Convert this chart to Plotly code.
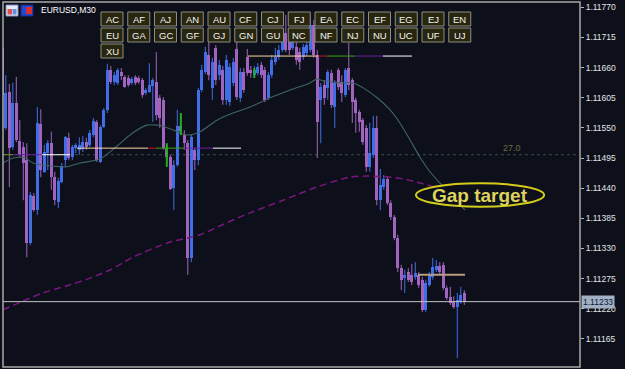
import numpy as np
import plotly.graph_objects as go

# ---------------- data (EURUSD, M30) ----------------
opens = [1.11696,1.11550,1.11615,1.11515,1.11595,1.11526,1.11515,1.11491,1.11340,1.11426,
         1.11400,1.11557,1.11470,1.11504,1.11522,1.11460,1.11415,1.11451,1.11491,1.11532,
         1.11497,1.11513,1.11510,1.11512,1.11524,1.11519,1.11537,1.11561,1.11488,1.11552,
         1.11583,1.11656,1.11634,1.11632,1.11652,1.11643,1.11641,1.11632,1.11643,1.11641,
         1.11637,1.11614,1.11615,1.11626,1.11634,1.11605,1.11601,1.11513,1.11497,1.11440,
         1.11482,1.11553,1.11537,1.11522,1.11313,1.11510,1.11491,1.11619,1.11652,1.11683,
         1.11623,1.11696,1.11646,1.11656,1.11601,1.11597,1.11632,1.11694,1.11605,1.11652,
         1.11679,1.11656,1.11646,1.11650,1.11665,1.11656,1.11605,1.11646,1.11670,1.11679,
         1.11692,1.11723,1.11710,1.11696,1.11698,1.11688,1.11679,1.11687,1.11692,1.11738,
         1.11683,1.11601,1.11628,1.11623,1.11650,1.11588,1.11656,1.11634,1.11610,1.11659,
         1.11637,1.11601,1.11579,1.11564,1.11550,1.11479,1.11501,1.11550,1.11418,1.11442,
         1.11457,1.11413,1.11387,1.11349,1.11294,1.11276,1.11287,1.11282,1.11278,1.11282,
         1.11273,1.11218,1.11263,1.11278,1.11291,1.11298,1.11300,1.11258,1.11242,1.11232,
         1.11223,1.11232,1.11249]
highs = [1.11705,1.11646,1.11630,1.11632,1.11643,1.11564,1.11524,1.11522,1.11433,1.11431,
         1.11588,1.11584,1.11519,1.11528,1.11543,1.11470,1.11459,1.11486,1.11535,1.11541,
         1.11519,1.11522,1.11533,1.11535,1.11532,1.11546,1.11568,1.11564,1.11555,1.11586,
         1.11667,1.11663,1.11652,1.11659,1.11659,1.11646,1.11646,1.11643,1.11646,1.11645,
         1.11641,1.11623,1.11668,1.11641,1.11688,1.11610,1.11606,1.11519,1.11501,1.11491,
         1.11583,1.11577,1.11546,1.11528,1.11537,1.11513,1.11623,1.11665,1.11698,1.11707,
         1.11678,1.11701,1.11674,1.11663,1.11683,1.11668,1.11678,1.11719,1.11659,1.11659,
         1.11694,1.11663,1.11663,1.11668,1.11670,1.11661,1.11652,1.11683,1.11696,1.11701,
         1.11732,1.11756,1.11718,1.11729,1.11710,1.11696,1.11703,1.11710,1.11756,1.11747,
         1.11692,1.11632,1.11637,1.11656,1.11656,1.11637,1.11659,1.11646,1.11659,1.11705,
         1.11641,1.11605,1.11583,1.11568,1.11555,1.11559,1.11572,1.11572,1.11475,1.11464,
         1.11462,1.11418,1.11391,1.11355,1.11300,1.11291,1.11294,1.11302,1.11305,1.11287,
         1.11278,1.11273,1.11287,1.11313,1.11309,1.11305,1.11305,1.11262,1.11260,1.11243,
         1.11249,1.11260,1.11254]
lows = [1.11601,1.11546,1.11442,1.11510,1.11524,1.11497,1.11418,1.11314,1.11336,1.11397,
        1.11391,1.11460,1.11468,1.11473,1.11437,1.11409,1.11404,1.11449,1.11479,1.11491,
        1.11491,1.11504,1.11501,1.11506,1.11510,1.11515,1.11533,1.11488,1.11486,1.11550,
        1.11577,1.11630,1.11628,1.11628,1.11637,1.11623,1.11625,1.11628,1.11628,1.11630,
        1.11605,1.11610,1.11614,1.11561,1.11564,1.11550,1.11510,1.11491,1.11437,1.11400,
        1.11479,1.11537,1.11510,1.11282,1.11305,1.11473,1.11482,1.11615,1.11648,1.11637,
        1.11601,1.11628,1.11637,1.11592,1.11592,1.11590,1.11626,1.11601,1.11597,1.11614,
        1.11645,1.11641,1.11641,1.11646,1.11641,1.11597,1.11601,1.11641,1.11665,1.11674,
        1.11688,1.11688,1.11683,1.11692,1.11665,1.11656,1.11674,1.11681,1.11688,1.11678,
        1.11495,1.11522,1.11592,1.11601,1.11586,1.11550,1.11619,1.11597,1.11606,1.11619,
        1.11559,1.11541,1.11543,1.11519,1.11470,1.11470,1.11495,1.11409,1.11400,1.11437,
        1.11409,1.11382,1.11345,1.11287,1.11254,1.11249,1.11269,1.11263,1.11273,1.11258,
        1.11214,1.11214,1.11260,1.11273,1.11287,1.11282,1.11254,1.11236,1.11227,1.11220,
        1.11130,1.11229,1.11227]
closes = [1.11610,1.11614,1.11513,1.11595,1.11528,1.11501,1.11486,1.11340,1.11428,1.11400,
          1.11559,1.11473,1.11506,1.11522,1.11460,1.11418,1.11453,1.11480,1.11533,1.11495,
          1.11515,1.11519,1.11519,1.11524,1.11515,1.11541,1.11563,1.11491,1.11552,1.11583,
          1.11656,1.11634,1.11646,1.11656,1.11645,1.11625,1.11628,1.11639,1.11632,1.11634,
          1.11610,1.11619,1.11628,1.11637,1.11574,1.11568,1.11513,1.11497,1.11439,1.11482,
          1.11553,1.11544,1.11522,1.11313,1.11533,1.11491,1.11619,1.11656,1.11688,1.11646,
          1.11670,1.11637,1.11665,1.11601,1.11674,1.11661,1.11670,1.11606,1.11652,1.11619,
          1.11650,1.11650,1.11656,1.11661,1.11646,1.11601,1.11646,1.11674,1.11679,1.11692,
          1.11723,1.11692,1.11692,1.11719,1.11674,1.11670,1.11698,1.11701,1.11738,1.11683,
          1.11561,1.11625,1.11605,1.11652,1.11592,1.11632,1.11625,1.11614,1.11656,1.11628,
          1.11597,1.11577,1.11561,1.11524,1.11479,1.11504,1.11550,1.11418,1.11446,1.11457,
          1.11413,1.11387,1.11349,1.11294,1.11273,1.11282,1.11273,1.11269,1.11285,1.11263,
          1.11218,1.11267,1.11282,1.11296,1.11298,1.11287,1.11258,1.11240,1.11231,1.11223,
          1.11236,1.11245,1.11233]

# moving averages (bar position, price)
ma_fast_bar = [0.2,3.1,6.5,8.8,16.5,18.5,22.2,27.9,32.8,37.3,41.3,44.2,45.9,48.8,52.8,56.5,61.3,65.9,
               70.8,76.5,82.2,87.9,89.9,91.6,96.5,100.2,103.1,107.1,110.8,113.6,116.5,119.3,122.2,
               125.1,128.8,132.2]
ma_fast = [1.11486,1.11495,1.11495,1.11486,1.11479,1.11479,1.11486,1.11493,1.11517,1.11541,1.11555,
           1.11555,1.11553,1.11546,1.11537,1.11543,1.11564,1.11577,1.11588,1.11605,1.11619,1.11632,
           1.11639,1.11636,1.11632,1.11632,1.11623,1.11605,1.11583,1.11559,1.11528,1.11497,1.11470,
           1.11449,1.11424,1.11400]
ma_slow_bar = [0.2,5.9,11.6,18.5,25.1,30.8,37.3,47.1,52.8,56.5,65.9,70.8,80.2,89.9,99.3,104.2,110.8,
               114.5,120.2,125.1,132.2]
ma_slow = [1.11218,1.11234,1.11249,1.11262,1.11276,1.11291,1.11314,1.11340,1.11349,1.11355,1.11382,
           1.11395,1.11418,1.11442,1.11460,1.11462,1.11460,1.11457,1.11448,1.11440,1.11431]

# indicator level segments
seg_start = [0.2, 3.06, 11.34, 21.34, 41.63, 43.91, 51.91, 60.2, 70.2, 90.2, 92.77, 100.77, 108.77, 118.77]
seg_end = [3.06, 11.34, 19.34, 41.63, 43.91, 51.91, 60.2, 68.2, 90.2, 92.77, 100.77, 108.77, 117.06, 132.2]
seg_price = [1.11501, 1.11501, 1.11501, 1.11513, 1.11513, 1.11513, 1.11513, 1.11513,
             1.11681, 1.11681, 1.11681, 1.11681, 1.11681, 1.11282]
seg_color = ["#5E9E22", "#6A1FA0", "#FFFFFF", "#FFD4A0", "#C8102E", "#3DA012", "#6A1FA0", "#FFFFFF",
             "#FFD4A0", "#C8102E", "#3DA012", "#6A1FA0", "#FFFFFF", "#B89C82"]
seg_width = [1, 1, 1, 1, 1, 1, 1, 1, 1, 1, 1, 1, 1, 2]

mark_bar = [47, 51, 72]
mark_lo = [1.11479, 1.11537, 1.11641]
mark_hi = [1.11522, 1.11577, 1.11659]

level_price = 1.11501
level_text = "27.0"
last_price = 1.11233
gap_box = (118.2, 154.8, 1.11406, 1.11449)

tick_vals = [1.11165, 1.11220, 1.11275, 1.11330, 1.11385, 1.11440, 1.11495,
             1.11550, 1.11605, 1.11660, 1.11715, 1.11770]
buttons = [["AC","AF","AJ","AN","AU","CF","CJ","FJ","EA","EC","EF","EG","EJ","EN"],
           ["EU","GA","GC","GF","GJ","GN","GU","NC","NF","NJ","NU","UC","UF","UJ"],
           ["XU"]]

# ---------------- figure ----------------
BG = "#0D101B"
BULL = "#416EE6"
BEAR = "#A064BE"
FONT = "Liberation Sans"

o = np.array(opens); h = np.array(highs); l = np.array(lows); c = np.array(closes)
x = np.arange(len(o))
bull = c >= o

fig = go.Figure()

def wick_xy(mask):
    xs, ys = [], []
    for i in np.where(mask)[0]:
        xs += [x[i], x[i], None]
        ys += [l[i], h[i], None]
    return xs, ys

for mask, col in ((bull, BULL), (~bull, BEAR)):
    wx, wy = wick_xy(mask)
    fig.add_trace(go.Scatter(x=wx, y=wy, mode="lines", line=dict(color=col, width=1),
                             hoverinfo="skip", showlegend=False))

base = np.minimum(o, c)
body = np.maximum(np.abs(c - o), 0.000012)
fig.add_trace(go.Bar(x=x, y=body, base=base, width=0.86,
                     marker=dict(color=[BULL if b else BEAR for b in bull], line=dict(width=0)),
                     hoverinfo="skip", showlegend=False))

# moving averages
fig.add_trace(go.Scatter(x=ma_slow_bar, y=ma_slow, mode="lines",
                         line=dict(color="#7A177E", width=1.5, dash="7px,4px", shape="spline", smoothing=0.8),
                         hoverinfo="skip", showlegend=False))
fig.add_trace(go.Scatter(x=ma_fast_bar, y=ma_fast, mode="lines",
                         line=dict(color="#3E6464", width=1.1, shape="spline", smoothing=0.8),
                         hoverinfo="skip", showlegend=False))

# level segments
for s, e, p, col, w in zip(seg_start, seg_end, seg_price, seg_color, seg_width):
    fig.add_trace(go.Scatter(x=[s, e], y=[p, p], mode="lines", line=dict(color=col, width=w),
                             hoverinfo="skip", showlegend=False))

# green markers
mx, my = [], []
for b, lo, hi in zip(mark_bar, mark_lo, mark_hi):
    mx += [b, b, None]; my += [lo, hi, None]
fig.add_trace(go.Scatter(x=mx, y=my, mode="lines", line=dict(color="#1FB01F", width=2),
                         hoverinfo="skip", showlegend=False))

X0, X1 = 0.2, 165.06
Y0, Y1 = 1.111138, 1.117796

def px(X):
    return (X - 3) / 577.0

def py(Y):
    return 1 - (Y - 2) / 365.0

shapes = []
annotations = []

# dashed level line
shapes.append(dict(type="line", xref="paper", yref="y", x0=0, x1=1, y0=level_price, y1=level_price,
                   line=dict(color="#32553A", width=1, dash="3px,3px"), layer="below"))
annotations.append(dict(x=145.6, y=level_price, xref="x", yref="y", text=level_text, showarrow=False,
                        xanchor="center", yanchor="middle", yshift=7,
                        font=dict(family=FONT, size=9, color="#6E6E3E")))

# current price line and label
shapes.append(dict(type="line", xref="paper", yref="y", x0=0, x1=1, y0=last_price, y1=last_price,
                   line=dict(color="#C4C4C4", width=1)))
annotations.append(dict(x=1, y=last_price, xref="paper", yref="y", xanchor="left", yanchor="middle",
                        xshift=1, text=f"{last_price:.5f}", showarrow=False, bgcolor="#A2B0C6",
                        borderpad=1, font=dict(family=FONT, size=8.5, color="#0B1530")))

# gap target ellipse
gx0, gx1, gy0, gy1 = gap_box
shapes.append(dict(type="circle", xref="x", yref="y", x0=gx0, x1=gx1, y0=gy0, y1=gy1,
                   fillcolor=BG, line=dict(color="#D4CC1C", width=2), layer="above"))
annotations.append(dict(x=(gx0 + gx1) / 2, y=(gy0 + gy1) / 2, xref="x", yref="y",
                        xanchor="center", yanchor="middle",
                        text="<b>Gap target</b>", showarrow=False,
                        font=dict(family=FONT, size=19, color="#DDD35C")))

# buttons
for r, row in enumerate(buttons):
    for k, lab in enumerate(row):
        bx0 = 101 + 26.75 * k
        by0 = 12 + 16 * r
        shapes.append(dict(type="rect", xref="paper", yref="paper", x0=px(bx0), x1=px(bx0 + 22),
                           y0=py(by0 + 14), y1=py(by0), fillcolor="#28260E",
                           line=dict(color="#8E8E80", width=1), layer="above"))
        annotations.append(dict(x=px(bx0 + 11), y=py(by0 + 7.5), xref="paper", yref="paper",
                                xanchor="center", yanchor="middle",
                                text=lab, showarrow=False,
                                font=dict(family=FONT, size=9.5, color="#F4F4F4")))

# title icons and text
shapes += [
    dict(type="rect", xref="paper", yref="paper", x0=px(6), x1=px(18), y0=py(16), y1=py(5),
         fillcolor="#E6EAF6", line=dict(color="#8090C0", width=1), layer="above"),
    dict(type="rect", xref="paper", yref="paper", x0=px(7.5), x1=px(12), y0=py(14.5), y1=py(9),
         fillcolor="#E05050", line=dict(width=0), layer="above"),
    dict(type="rect", xref="paper", yref="paper", x0=px(12.5), x1=px(16.5), y0=py(14.5), y1=py(9),
         fillcolor="#6A88E0", line=dict(width=0), layer="above"),
    dict(type="rect", xref="paper", yref="paper", x0=px(21), x1=px(33), y0=py(16), y1=py(5),
         fillcolor="#2448D0", line=dict(color="#1A2A80", width=1), layer="above"),
    dict(type="rect", xref="paper", yref="paper", x0=px(26), x1=px(32), y0=py(14), y1=py(7),
         fillcolor="#D83030", line=dict(width=0), layer="above"),
]
annotations.append(dict(x=px(39), y=py(10.5), xref="paper", yref="paper",
                        xanchor="left", yanchor="middle",
                        text="EURUSD,M30", showarrow=False,
                        font=dict(family=FONT, size=8.5, color="#FFFFFF")))

# frame
shapes.append(dict(type="rect", xref="paper", yref="paper", x0=0, x1=1, y0=0, y1=1,
                   line=dict(color="#A8A8A8", width=1.5), layer="above"))

fig.update_layout(
    width=625, height=369,
    margin=dict(l=3, r=45, t=2, b=2, pad=0),
    paper_bgcolor=BG, plot_bgcolor=BG,
    barmode="overlay", bargap=0,
    showlegend=False,
    shapes=shapes, annotations=annotations,
    xaxis=dict(range=[X0, X1], visible=False, showgrid=False, zeroline=False, fixedrange=True),
    yaxis=dict(range=[Y0, Y1], side="right", showgrid=False, zeroline=False,
               tickvals=tick_vals, ticktext=[f"{v:.5f}" for v in tick_vals],
               ticks="outside", ticklen=3, tickcolor="#B8B8B8", tickwidth=1,
               tickfont=dict(family=FONT, size=8.5, color="#E4E4E4"), fixedrange=True),
)

fig.write_html("out.html")
